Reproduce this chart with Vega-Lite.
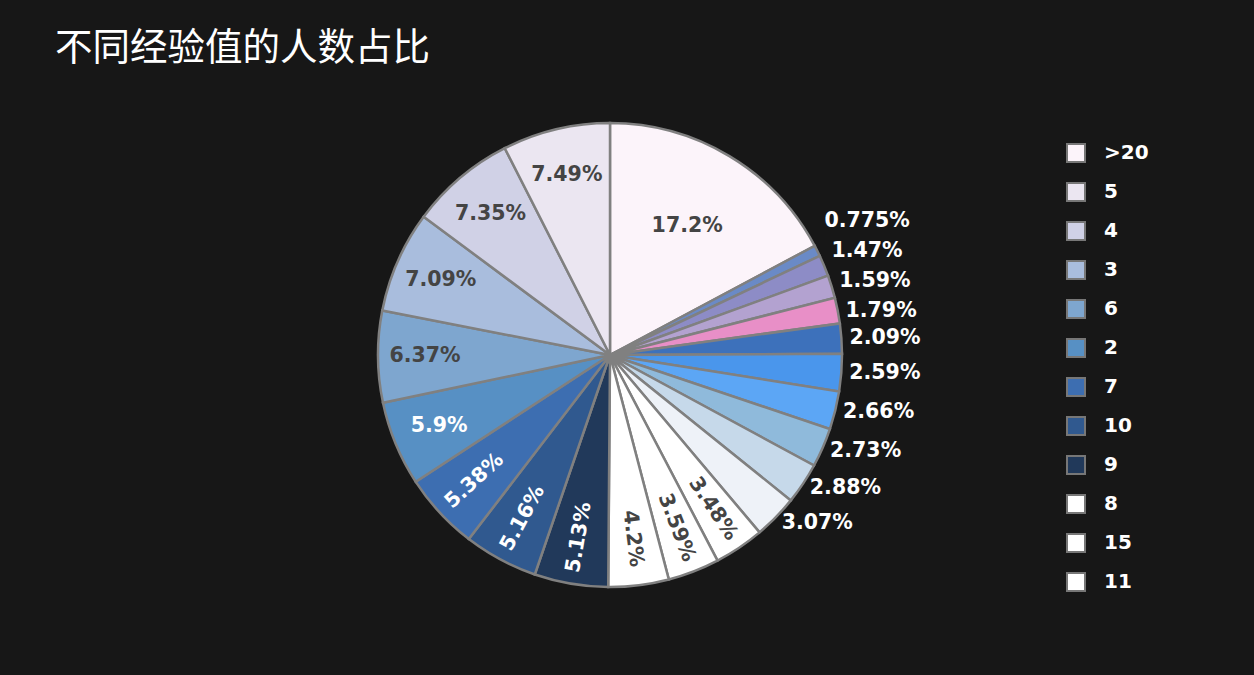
{
  "$schema": "https://vega.github.io/schema/vega-lite/v6.json",
  "width": 1220,
  "height": 510,
  "autosize": {"type": "none"},
  "padding": {"left": 0, "top": 100, "right": 34, "bottom": 65},
  "background": "#171717",
  "title": {"text": "不同经验值的人数占比", "anchor": "start", "frame": "group", "dx": 55, "offset": 18, "font": "Noto Sans CJK SC", "fontSize": 37.5, "fontWeight": "normal", "color": "#ffffff"},
  "config": {"view": {"stroke": null}},
  "data": {"values": [
    {"exp": ">20", "pct": 17.2, "rank": 0},
    {"exp": "0", "pct": 0.775, "rank": 1},
    {"exp": "19", "pct": 1.47, "rank": 2},
    {"exp": "18", "pct": 1.59, "rank": 3},
    {"exp": "17", "pct": 1.79, "rank": 4},
    {"exp": "1", "pct": 2.09, "rank": 5},
    {"exp": "20", "pct": 2.59, "rank": 6},
    {"exp": "16", "pct": 2.66, "rank": 7},
    {"exp": "14", "pct": 2.73, "rank": 8},
    {"exp": "13", "pct": 2.88, "rank": 9},
    {"exp": "12", "pct": 3.07, "rank": 10},
    {"exp": "11", "pct": 3.48, "rank": 11},
    {"exp": "15", "pct": 3.59, "rank": 12},
    {"exp": "8", "pct": 4.2, "rank": 13},
    {"exp": "9", "pct": 5.13, "rank": 14},
    {"exp": "10", "pct": 5.16, "rank": 15},
    {"exp": "7", "pct": 5.38, "rank": 16},
    {"exp": "2", "pct": 5.9, "rank": 17},
    {"exp": "6", "pct": 6.37, "rank": 18},
    {"exp": "3", "pct": 7.09, "rank": 19},
    {"exp": "4", "pct": 7.35, "rank": 20},
    {"exp": "5", "pct": 7.49, "rank": 21}
  ]},
  "transform": [
    {"window": [{"op": "sum", "field": "pct", "as": "cum"}], "sort": [{"field": "rank"}], "frame": [null, 0]},
    {"joinaggregate": [{"op": "sum", "field": "pct", "as": "total"}]},
    {"calculate": "(datum.cum - datum.pct / 2) / datum.total * 360", "as": "mid"},
    {"calculate": "datum.mid > 140 && datum.mid < 240 ? (datum.mid < 180 ? datum.mid - 90 : datum.mid - 270) : 0", "as": "rot"},
    {"calculate": "datum.pct + '%'", "as": "label"}
  ],
  "layer": [
    {
      "mark": {"type": "arc", "outerRadius": 232, "stroke": "#808080", "strokeWidth": 2.5},
      "encoding": {
        "theta": {"field": "pct", "type": "quantitative", "stack": true},
        "order": {"field": "rank", "type": "quantitative"},
        "color": {
          "field": "exp", "type": "nominal",
          "scale": {
            "domain": [">20", "5", "4", "3", "6", "2", "7", "10", "9", "8", "15", "11", "12", "13", "14", "16", "20", "1", "17", "18", "19", "0"],
            "range": ["#fcf4fa", "#ebe6f1", "#d0d1e6", "#a9bddd", "#7ea6cf", "#5790c4", "#3d6eb1", "#30598f", "#21395a", "#ffffff", "#ffffff", "#ffffff", "#eef2f8", "#c6d9ea", "#8fbadb", "#5ca6f5", "#4a96ec", "#3d71bb", "#e88fc7", "#b3a2d0", "#8d8cc6", "#6a8ac6"]
          },
          "legend": {
            "orient": "none", "legendX": 1066, "legendY": 43, "title": null,
            "values": [">20", "5", "4", "3", "6", "2", "7", "10", "9", "8", "15", "11"],
            "symbolType": "square", "symbolSize": 324, "symbolStrokeColor": "#777777", "symbolStrokeWidth": 2, "symbolOpacity": 1,
            "labelColor": "#ffffff", "labelFont": "DejaVu Sans", "labelFontSize": 20, "labelFontWeight": "bold",
            "rowPadding": 13, "labelOffset": 18, "padding": 0
          }
        }
      }
    },
    {
      "mark": {"type": "text", "radius": 185, "font": "DejaVu Sans", "fontSize": 20.5, "fontWeight": "bold", "align": "center", "baseline": "middle", "color": "#444444"},
      "encoding": {
        "theta": {"field": "pct", "type": "quantitative", "stack": true},
        "order": {"field": "rank", "type": "quantitative"},
        "detail": {"field": "exp", "type": "nominal"},
        "text": {"condition": {"test": "datum.pct >= 3.4 && datum.pct < 10 && !(datum.pct > 5 && datum.pct < 6)", "field": "label", "type": "nominal"}, "value": ""},
        "angle": {"field": "rot", "type": "quantitative", "scale": null}
      }
    },
    {
      "mark": {"type": "text", "radius": 185, "font": "DejaVu Sans", "fontSize": 20.5, "fontWeight": "bold", "align": "center", "baseline": "middle", "color": "#ffffff"},
      "encoding": {
        "theta": {"field": "pct", "type": "quantitative", "stack": true},
        "order": {"field": "rank", "type": "quantitative"},
        "detail": {"field": "exp", "type": "nominal"},
        "text": {"condition": {"test": "datum.pct > 5 && datum.pct < 6", "field": "label", "type": "nominal"}, "value": ""},
        "angle": {"field": "rot", "type": "quantitative", "scale": null}
      }
    },
    {
      "mark": {"type": "text", "radius": 150, "font": "DejaVu Sans", "fontSize": 20.5, "fontWeight": "bold", "align": "center", "baseline": "middle", "color": "#444444"},
      "encoding": {
        "theta": {"field": "pct", "type": "quantitative", "stack": true},
        "order": {"field": "rank", "type": "quantitative"},
        "detail": {"field": "exp", "type": "nominal"},
        "text": {"condition": {"test": "datum.pct >= 10", "field": "label", "type": "nominal"}, "value": ""}
      }
    },
    {
      "mark": {"type": "text", "radius": 240, "font": "DejaVu Sans", "fontSize": 20.5, "fontWeight": "bold", "align": "left", "baseline": "middle", "color": "#ffffff"},
      "encoding": {
        "theta": {"field": "pct", "type": "quantitative", "stack": true},
        "order": {"field": "rank", "type": "quantitative"},
        "detail": {"field": "exp", "type": "nominal"},
        "text": {"condition": {"test": "datum.pct >= 2 && datum.pct < 3.4", "field": "label", "type": "nominal"}, "value": ""}
      }
    },
    {
      "mark": {"type": "text", "radius": 240, "dy": 2, "font": "DejaVu Sans", "fontSize": 20.5, "fontWeight": "bold", "align": "left", "baseline": "middle", "color": "#ffffff"},
      "encoding": {
        "theta": {"field": "pct", "type": "quantitative", "stack": true},
        "order": {"field": "rank", "type": "quantitative"},
        "detail": {"field": "exp", "type": "nominal"},
        "text": {"condition": {"test": "datum.exp == '17'", "field": "label", "type": "nominal"}, "value": ""}
      }
    },
    {
      "mark": {"type": "text", "radius": 240, "dy": -3, "font": "DejaVu Sans", "fontSize": 20.5, "fontWeight": "bold", "align": "left", "baseline": "middle", "color": "#ffffff"},
      "encoding": {
        "theta": {"field": "pct", "type": "quantitative", "stack": true},
        "order": {"field": "rank", "type": "quantitative"},
        "detail": {"field": "exp", "type": "nominal"},
        "text": {"condition": {"test": "datum.exp == '18'", "field": "label", "type": "nominal"}, "value": ""}
      }
    },
    {
      "mark": {"type": "text", "radius": 240, "dy": -12, "font": "DejaVu Sans", "fontSize": 20.5, "fontWeight": "bold", "align": "left", "baseline": "middle", "color": "#ffffff"},
      "encoding": {
        "theta": {"field": "pct", "type": "quantitative", "stack": true},
        "order": {"field": "rank", "type": "quantitative"},
        "detail": {"field": "exp", "type": "nominal"},
        "text": {"condition": {"test": "datum.exp == '19'", "field": "label", "type": "nominal"}, "value": ""}
      }
    },
    {
      "mark": {"type": "text", "radius": 240, "dy": -26, "font": "DejaVu Sans", "fontSize": 20.5, "fontWeight": "bold", "align": "left", "baseline": "middle", "color": "#ffffff"},
      "encoding": {
        "theta": {"field": "pct", "type": "quantitative", "stack": true},
        "order": {"field": "rank", "type": "quantitative"},
        "detail": {"field": "exp", "type": "nominal"},
        "text": {"condition": {"test": "datum.exp == '0'", "field": "label", "type": "nominal"}, "value": ""}
      }
    }
  ]
}
